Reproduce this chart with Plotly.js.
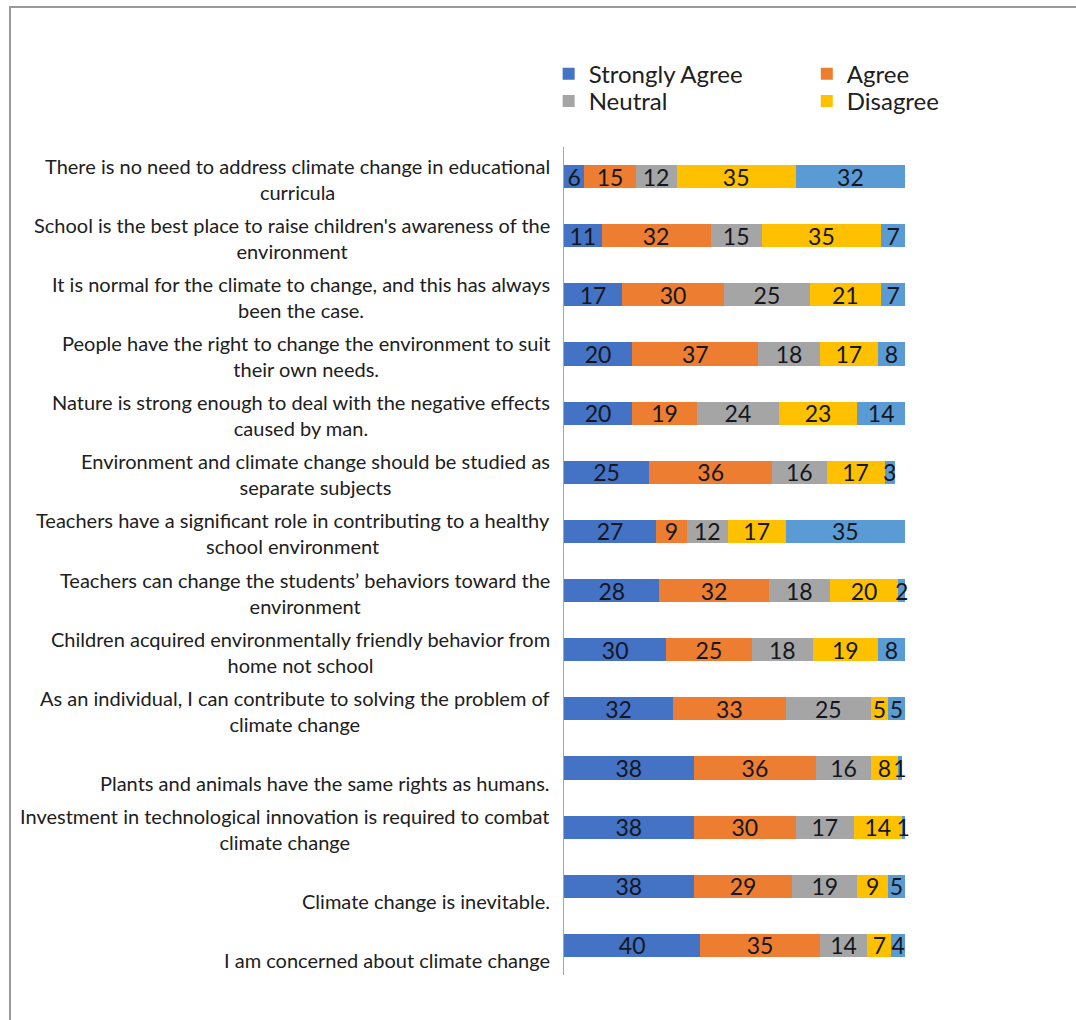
<!DOCTYPE html>
<html>
<head>
<meta charset="utf-8">
<script src="https://cdn.plot.ly/plotly-3.0.1.min.js"></script>
<style>
  html, body { margin: 0; padding: 0; background: #ffffff; }
  #wrap { position: relative; width: 1076px; height: 1020px; overflow: hidden; }
  #chart { position: absolute; left: 0; top: 0; width: 1076px; height: 1020px; }
  #frame { position: absolute; left: 9px; top: 6px; width: 1200px; height: 1200px;
           border-left: 2px solid #9a9a9a; border-top: 2px solid #9a9a9a; pointer-events: none; }
</style>
</head>
<body>
<div id="wrap">
  <div id="chart"></div>
  <div id="frame"></div>
</div>
<script>
// Statements (top to bottom), with the line breaks used in the original
const statements = [
  "There is no need to address climate change in educational<br>curricula",
  "School is the best place to raise children's awareness of the<br>environment",
  "It is normal for the climate to change, and this has always<br>been the case.",
  "People have the right to change the environment to suit<br>their own needs.",
  "Nature is strong enough to deal with the negative effects<br>caused by man.",
  "Environment and climate change should be studied as<br>separate subjects",
  "Teachers have a significant role in contributing to a healthy<br>school environment",
  "Teachers can change the students\u2019 behaviors toward the<br>environment",
  "Children acquired environmentally friendly behavior from<br>home not school",
  "As an individual, I can contribute to solving the problem of<br>climate change",
  "Plants and animals have the same rights as humans.",
  "Investment in technological innovation is required to combat<br>climate change",
  "Climate change is inevitable.",
  "I am concerned about climate change"
];

const seriesNames = ["Strongly Agree", "Agree", "Neutral", "Disagree", "Strongly Disagree"];

const stronglyAgree    = [6, 11, 17, 20, 20, 25, 27, 28, 30, 32, 38, 38, 38, 40];
const agree            = [15, 32, 30, 37, 19, 36, 9, 32, 25, 33, 36, 30, 29, 35];
const neutral          = [12, 15, 25, 18, 24, 16, 12, 18, 18, 25, 16, 17, 19, 14];
const disagree         = [35, 35, 21, 17, 23, 17, 17, 20, 19, 5, 8, 14, 9, 7];
const stronglyDisagree = [32, 7, 7, 8, 14, 3, 35, 2, 8, 5, 1, 1, 5, 4];

const colors = ["#4472C4", "#ED7D31", "#A5A5A5", "#FFC000", "#5B9BD5"];
const seriesValues = [stronglyAgree, agree, neutral, disagree, stronglyDisagree];
// legend placement: Strongly Agree / Agree on row 1, Neutral / Disagree on row 2; last series has no entry
const legendIds = ["legend", "legend2", "legend3", "legend4", null];

const FONT = "Lato, 'Open Sans', sans-serif";

const traces = seriesValues.map((vals, i) => ({
  type: "bar",
  orientation: "h",
  name: seriesNames[i],
  x: vals,
  y: statements,
  marker: { color: colors[i], line: { width: 0 } },
  texttemplate: "%{x}",
  textposition: "inside",
  insidetextanchor: "middle",
  textangle: 0,
  constraintext: "none",
  cliponaxis: false,
  insidetextfont: { family: FONT, size: 23, color: "#141720" },
  hoverinfo: "x+y+name",
  showlegend: legendIds[i] !== null,
  legend: legendIds[i] || "legend"
}));

const annotations = statements.map(s => ({
  xref: "paper", yref: "y",
  x: 0, y: s,
  xanchor: "right", yanchor: "bottom",
  xshift: -12, yshift: -29,
  align: "center",
  showarrow: false,
  text: s,
  font: { family: FONT, size: 20, color: "#202020" }
}));

function legendBox(x, y) {
  return {
    x: x, y: y, xanchor: "left", yanchor: "middle",
    orientation: "v", bgcolor: "rgba(0,0,0,0)", borderwidth: 0,
    font: { family: FONT, size: 24, color: "#202020" },
    itemclick: false, itemdoubleclick: false
  };
}

const layout = {
  width: 1076, height: 1020,
  paper_bgcolor: "#ffffff", plot_bgcolor: "#ffffff",
  margin: { l: 564, r: 171, t: 147, b: 45 },
  barmode: "stack",
  bargap: 0.61,
  showlegend: true,
  legend: legendBox(-0.045, 1.088),
  legend2: legendBox(0.712, 1.088),
  legend3: legendBox(-0.045, 1.055),
  legend4: legendBox(0.712, 1.055),
  xaxis: { range: [0, 100], visible: false, fixedrange: true },
  yaxis: {
    type: "category",
    autorange: "reversed",
    showticklabels: false,
    ticks: "",
    showgrid: false,
    zeroline: false,
    showline: true,
    linecolor: "#a6a6a6",
    linewidth: 1.5,
    fixedrange: true
  },
  annotations: annotations,
  font: { family: FONT }
};

Plotly.newPlot("chart", traces, layout, { displayModeBar: false, staticPlot: true });
</script>
</body>
</html>
